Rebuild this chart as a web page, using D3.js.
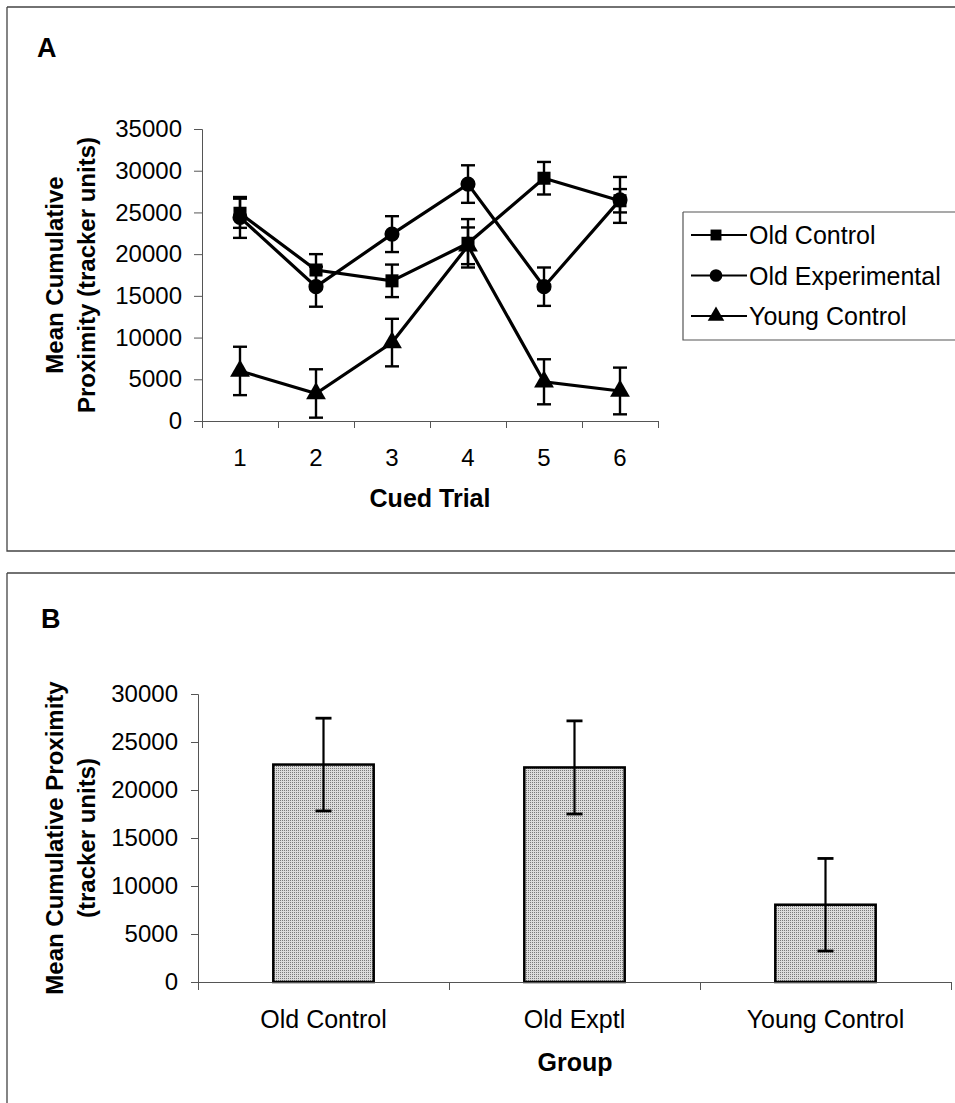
<!DOCTYPE html>
<html><head><meta charset="utf-8">
<script src="https://cdn.jsdelivr.net/npm/d3@7"></script>
<style>
html,body{margin:0;padding:0;background:#fff;}
svg{display:block;font-family:"Liberation Sans",Arial,sans-serif;}
</style></head>
<body>
<svg id="chart" width="955" height="1103"></svg>
<script>
// ---------- Data: panel A ----------
const trials = ["1","2","3","4","5","6"];
const seriesNames = ["Old Control","Old Experimental","Young Control"];
const oldControl      = [24900, 18100, 16800, 21300, 29100, 26400];
const oldControlErr   = [1750, 1900, 1950, 2900, 1950, 1400];
const oldExperimental = [24400, 16100, 22400, 28400, 16100, 26500];
const oldExperimentalErr = [2450, 2400, 2150, 2250, 2300, 2750];
const youngControl    = [6000, 3300, 9400, 21000, 4700, 3600];
const youngControlErr = [2900, 2900, 2850, 2200, 2700, 2800];
const yTicksA = [0,5000,10000,15000,20000,25000,30000,35000];

// ---------- Data: panel B ----------
const groups = ["Old Control","Old Exptl","Young Control"];
const groupMeans = [22650, 22350, 8050];
const groupErr = [4830, 4850, 4820];
const yTicksB = [0,5000,10000,15000,20000,25000,30000];

const FONT = "Liberation Sans, Arial, sans-serif";
const svg = d3.select("#chart");
const defs = svg.append("defs");
const pat = defs.append("pattern").attr("id","stipple").attr("patternUnits","userSpaceOnUse")
  .attr("width",2).attr("height",2);
pat.append("rect").attr("width",2).attr("height",2).attr("fill","#dcdcdc");
pat.append("rect").attr("width",1).attr("height",1).attr("fill","#7a7a7a");

// panel borders
svg.append("path").attr("d","M7,7 H960 M7,7 V551 H960").attr("fill","none").attr("stroke","#444").attr("stroke-width",1.3);
svg.append("path").attr("d","M7,573 H960 M7,573 V1110").attr("fill","none").attr("stroke","#444").attr("stroke-width",1.3);

// ---------- Panel A ----------
const xA = d3.scaleBand().domain(trials).range([202,658]).padding(0);
const xAedge = d3.scaleLinear().domain([0,6]).range([202,658]);
const yA = d3.scaleLinear().domain([0,35000]).range([421,129]);

svg.append("text").attr("x",37).attr("y",57).attr("font-size",27).attr("font-weight","bold").text("A");

const gyA = svg.append("g").attr("transform","translate(202,0)")
  .call(d3.axisLeft(yA).tickValues(yTicksA).tickSize(8).tickPadding(12).tickFormat(d3.format("d")));
gyA.selectAll("text").attr("font-size",24).attr("fill","#000").attr("font-family",FONT);
gyA.selectAll("line,path").attr("stroke","#555");

const gxA = svg.append("g").attr("transform","translate(0,421)")
  .call(d3.axisBottom(xAedge).tickValues(d3.range(0,7)).tickSize(7).tickFormat(""));
gxA.selectAll("line,path").attr("stroke","#555");
const gxAl = svg.append("g").attr("transform","translate(0,421)")
  .call(d3.axisBottom(xA).tickSize(0).tickPadding(28));
gxAl.select("path").remove();
gxAl.selectAll("text").attr("font-size",24).attr("fill","#000").attr("font-family",FONT);

svg.append("text").attr("x",430).attr("y",507).attr("text-anchor","middle")
  .attr("font-size",25).attr("font-weight","bold").text("Cued Trial");
const ytA = svg.append("text").attr("transform","translate(0,275) rotate(-90)")
  .attr("text-anchor","middle").attr("font-size",24).attr("font-weight","bold");
ytA.append("tspan").attr("x",0).attr("y",63).text("Mean Cumulative");
ytA.append("tspan").attr("x",0).attr("y",95).text("Proximity (tracker units)");

const seriesA = [
  {name:seriesNames[0], v:oldControl, e:oldControlErr, sym:d3.symbolSquare, size:170},
  {name:seriesNames[1], v:oldExperimental, e:oldExperimentalErr, sym:d3.symbolCircle, size:180},
  {name:seriesNames[2], v:youngControl, e:youngControlErr, sym:d3.symbolTriangle, size:170}
];
const cx = i => xA(trials[i]) + xA.bandwidth()/2;
const line = d3.line().x((d,i)=>cx(i)).y(d=>yA(d));
seriesA.forEach(s=>{
  const g = svg.append("g");
  s.v.forEach((d,i)=>{
    const x = cx(i), y1 = yA(d + s.e[i]), y2 = yA(d - s.e[i]);
    g.append("line").attr("x1",x).attr("x2",x).attr("y1",y1).attr("y2",y2).attr("stroke","#000").attr("stroke-width",2.4);
    [y1,y2].forEach(yy=>g.append("line").attr("x1",x-7).attr("x2",x+7).attr("y1",yy).attr("y2",yy).attr("stroke","#000").attr("stroke-width",2.4));
  });
  g.append("path").datum(s.v).attr("d",line).attr("fill","none").attr("stroke","#000").attr("stroke-width",3.2);
  g.selectAll("path.m").data(s.v).join("path").attr("class","m")
    .attr("transform",(d,i)=>`translate(${cx(i)},${yA(d)})`)
    .attr("d",d3.symbol().type(s.sym).size(s.size)).attr("fill","#000");
});

// legend
svg.append("path").attr("d","M683,212 H960 M683,212 V340 H960").attr("fill","none").attr("stroke","#555").attr("stroke-width",1.2);
const legY = d3.scalePoint().domain(seriesNames).range([235,316]);
seriesA.forEach(s=>{
  const y = legY(s.name);
  svg.append("line").attr("x1",691).attr("x2",747).attr("y1",y).attr("y2",y).attr("stroke","#000").attr("stroke-width",2);
  svg.append("path").attr("transform",`translate(716,${y})`).attr("d",d3.symbol().type(s.sym).size(s.size*0.7)).attr("fill","#000");
  svg.append("text").attr("x",749).attr("y",y).attr("dy","0.36em").attr("font-size",25).text(s.name);
});

// ---------- Panel B ----------
const xB = d3.scaleBand().domain(groups).range([198,951]).paddingInner(0.6).paddingOuter(0.3);
const xBedge = d3.scaleLinear().domain([0,3]).range([198,951]);
const yB = d3.scaleLinear().domain([0,30000]).range([982,694]);

svg.append("text").attr("x",41).attr("y",628).attr("font-size",27).attr("font-weight","bold").text("B");

const gyB = svg.append("g").attr("transform","translate(198,0)")
  .call(d3.axisLeft(yB).tickValues(yTicksB).tickSize(7).tickPadding(13).tickFormat(d3.format("d")));
gyB.selectAll("text").attr("font-size",24).attr("fill","#000").attr("font-family",FONT);
gyB.selectAll("line,path").attr("stroke","#555");

svg.selectAll("rect.bar").data(groupMeans).join("rect").attr("class","bar")
  .attr("x",(d,i)=>xB(groups[i])).attr("width",xB.bandwidth())
  .attr("y",d=>yB(d)).attr("height",d=>yB(0)-yB(d))
  .attr("fill","url(#stipple)").attr("stroke","#000").attr("stroke-width",2.5);

groupMeans.forEach((d,i)=>{
  const x = xB(groups[i]) + xB.bandwidth()/2, y1 = yB(d+groupErr[i]), y2 = yB(d-groupErr[i]);
  svg.append("line").attr("x1",x).attr("x2",x).attr("y1",y1).attr("y2",y2).attr("stroke","#000").attr("stroke-width",2.2);
  [y1,y2].forEach(yy=>svg.append("line").attr("x1",x-8).attr("x2",x+8).attr("y1",yy).attr("y2",yy).attr("stroke","#000").attr("stroke-width",2.8));
});

const gxB = svg.append("g").attr("transform","translate(0,982)")
  .call(d3.axisBottom(xBedge).tickValues([0,1,2,3]).tickSize(8).tickFormat(""));
gxB.selectAll("line,path").attr("stroke","#555");
const gxBl = svg.append("g").attr("transform","translate(0,982)")
  .call(d3.axisBottom(xB).tickSize(0).tickPadding(28));
gxBl.select("path").remove();
gxBl.selectAll("text").attr("font-size",25).attr("fill","#000").attr("font-family",FONT);

svg.append("text").attr("x",575).attr("y",1071).attr("text-anchor","middle")
  .attr("font-size",25).attr("font-weight","bold").text("Group");
const ytB = svg.append("text").attr("transform","translate(0,838) rotate(-90)")
  .attr("text-anchor","middle").attr("font-size",24).attr("font-weight","bold");
ytB.append("tspan").attr("x",0).attr("y",63).text("Mean Cumulative Proximity");
ytB.append("tspan").attr("x",0).attr("y",95).text("(tracker units)");
</script>
</body></html>
